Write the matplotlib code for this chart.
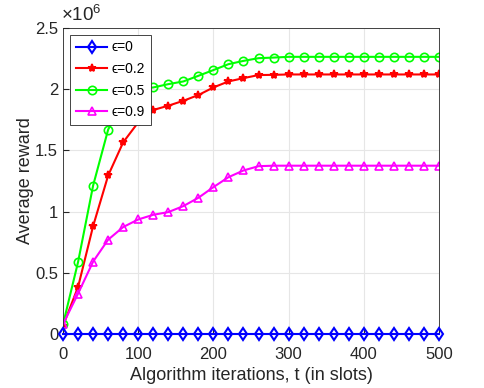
import numpy as np
import matplotlib
matplotlib.use('Agg')
import matplotlib.pyplot as plt
from matplotlib.ticker import FuncFormatter

plt.rcParams['font.family'] = ['Liberation Sans', 'DejaVu Sans']
plt.rcParams['mathtext.fontset'] = 'custom'
plt.rcParams['mathtext.rm'] = 'Liberation Sans'

t = np.arange(0, 501, 20)

r_eps0 = [0.0] * 26
r_eps02 = [0.068, 0.385, 0.882, 1.295, 1.566, 1.729, 1.83, 1.865, 1.905, 1.952,
           2.014, 2.063, 2.09, 2.115, 2.117, 2.12, 2.12, 2.12, 2.12, 2.12,
           2.12, 2.12, 2.12, 2.12, 2.12, 2.12]
r_eps05 = [0.08, 0.589, 1.213, 1.67, 1.9, 2.0, 2.014, 2.041, 2.063, 2.109,
           2.156, 2.204, 2.231, 2.253, 2.258, 2.264, 2.264, 2.264, 2.264, 2.264,
           2.264, 2.264, 2.264, 2.264, 2.264, 2.264]
r_eps09 = [0.081, 0.331, 0.592, 0.771, 0.874, 0.936, 0.974, 0.996, 1.045, 1.113,
           1.2, 1.281, 1.336, 1.371, 1.375, 1.375, 1.375, 1.375, 1.375, 1.375,
           1.375, 1.375, 1.375, 1.375, 1.375, 1.375]

fig = plt.figure(figsize=(4.85, 3.88), dpi=100)
ax = fig.add_axes([0.13, 0.139, 0.775, 0.789])

ax.plot(t, np.array(r_eps0) * 1e6, 'b-d', lw=1.5, ms=6, mfc='none', mew=1.5,
        clip_on=False, zorder=5, label='\u03f5=0')
ax.plot(t, np.array(r_eps02) * 1e6, 'r-*', lw=1.5, ms=6, mew=1.3, label='\u03f5=0.2')
ax.plot(t, np.array(r_eps05) * 1e6, '-o', color='#00ff00', lw=1.5, ms=6, mfc='none', mew=1.2,
        label='\u03f5=0.5')
ax.plot(t, np.array(r_eps09) * 1e6, '-^', color='#ff00ff', lw=1.5, ms=6, mfc='none', mew=1.2,
        label='\u03f5=0.9')

ax.set_xlim(0, 500)
ax.set_ylim(0, 2.5e6)
ax.set_xticks([0, 100, 200, 300, 400, 500])
ax.set_yticks(np.arange(0, 2.51e6, 0.5e6))
ax.yaxis.set_major_formatter(FuncFormatter(lambda v, p: '%g' % (v / 1e6)))
ax.text(-0.005, 1.01, r'$\times10^6$', transform=ax.transAxes, fontsize=13.5,
        color='#262626', ha='left', va='bottom')
ax.grid(True, color='#e6e6e6', lw=0.8)
ax.tick_params(labelsize=12, colors='#262626', direction='in', length=4)
ax.tick_params(axis='x', pad=9)
for s in ax.spines.values():
    s.set_color('#262626')
    s.set_linewidth(0.6)
ax.set_xlabel('Algorithm iterations, t (in slots)', fontsize=13, color='#262626', labelpad=4)
ax.set_ylabel('Average reward', fontsize=13, color='#262626', labelpad=1)

leg = ax.legend(loc='upper left', fontsize=10, fancybox=False, framealpha=1,
                edgecolor='#262626', borderpad=0.4, labelspacing=0.55,
                handlelength=2.3, handletextpad=0.3, borderaxespad=0.5)
leg.get_frame().set_linewidth(0.6)

fig.savefig('out.png', dpi=100)
